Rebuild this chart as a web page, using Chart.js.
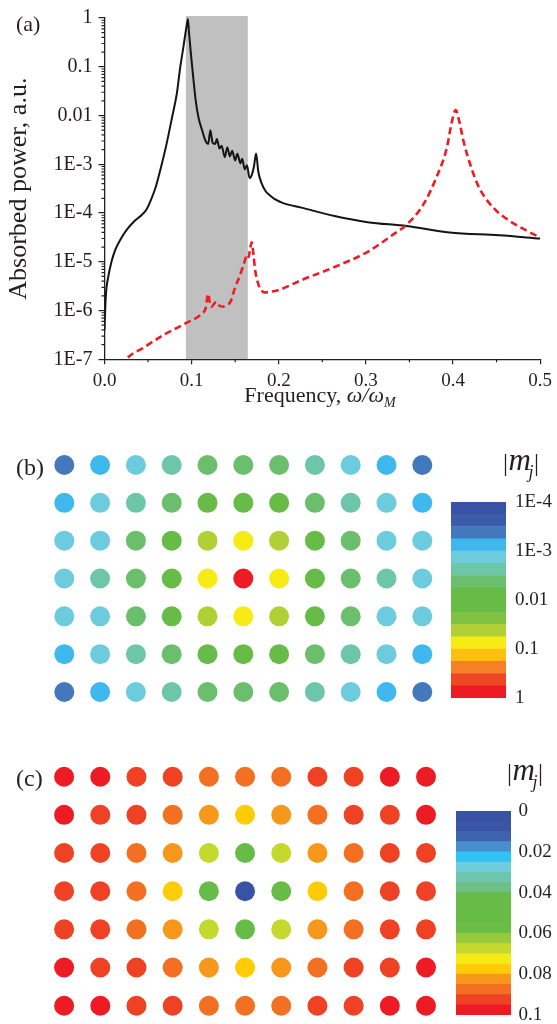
<!DOCTYPE html>
<html><head><meta charset="utf-8">
<script src="https://cdn.jsdelivr.net/npm/chart.js@4.4.1/dist/chart.umd.min.js"></script>
<style>
html,body{margin:0;padding:0;background:#fff;overflow:hidden;width:557px;height:1024px;}
canvas{position:absolute;left:0;top:0;}
</style></head><body>
<canvas id="cA" width="557" height="1040" style="width:557px;height:1040px"></canvas>
<canvas id="cB" width="557" height="1040" style="width:557px;height:1040px"></canvas>
<canvas id="cBbar" width="557" height="1040" style="width:557px;height:1040px"></canvas>
<canvas id="cC" width="557" height="1040" style="width:557px;height:1040px"></canvas>
<canvas id="cCbar" width="557" height="1040" style="width:557px;height:1040px"></canvas>
<script>
// ---------------- DATA ----------------
// Panel (a): absorbed power spectra
const freqBlack = [0.0000,0.0010,0.0020,0.0043,0.0080,0.0120,0.0180,0.0250,0.0350,0.0420,0.0480,0.0530,0.0590,0.0650,0.0710,0.0780,0.0830,0.0870,0.0905,0.0930,0.0950,0.0957,0.0970,0.0990,0.1015,0.1048,0.1080,0.1123,0.1160,0.1190,0.1215,0.1240,0.1270,0.1290,0.1320,0.1345,0.1380,0.1410,0.1440,0.1465,0.1500,0.1525,0.1560,0.1580,0.1610,0.1635,0.1665,0.1690,0.1715,0.1740,0.1765,0.1800,0.1850,0.1900,0.1960,0.2050,0.2260,0.2640,0.3020,0.3470,0.3960,0.4530,0.5000];
const powerBlack = [4.0e-7,1.3e-6,2.6e-6,4.9e-6,1.0e-5,1.7e-5,2.8e-5,4.4e-5,7.0e-5,8.9e-5,1.17e-4,1.8e-4,3.5e-4,8.9e-4,2.5e-3,1.0e-2,2.8e-2,1.0e-1,2.5e-1,5.0e-1,8.3e-1,0.95,0.5,0.2,7.0e-2,1.95e-2,8.9e-3,4.8e-3,3.0e-3,2.6e-3,5.0e-3,2.8e-3,2.6e-3,3.3e-3,2.1e-3,2.4e-3,1.4e-3,2.2e-3,1.45e-3,1.9e-3,1.2e-3,1.65e-3,1.05e-3,1.3e-3,7.9e-4,9.5e-4,5.2e-4,6.0e-4,8.9e-4,1.66e-3,7.1e-4,4.2e-4,2.8e-4,2.3e-4,1.9e-4,1.6e-4,1.29e-4,8.7e-5,6.5e-5,5.4e-5,4.0e-5,3.5e-5,3.0e-5];
const freqRed = [0.020,0.025,0.044,0.071,0.0934,0.112,0.116,0.119,0.1215,0.123,0.126,0.129,0.132,0.136,0.140,0.1445,0.150,0.155,0.160,0.164,0.1655,0.167,0.169,0.171,0.173,0.1765,0.180,0.184,0.188,0.199,0.226,0.264,0.302,0.332,0.347,0.366,0.381,0.393,0.398,0.403,0.407,0.412,0.421,0.430,0.446,0.465,0.484,0.499];
const powerRed = [7.0e-8,1.0e-7,1.7e-7,3.4e-7,5.5e-7,8.7e-7,1.1e-6,2.2e-6,1.25e-6,1.2e-6,1.4e-6,1.5e-6,1.25e-6,1.2e-6,1.3e-6,1.5e-6,3.0e-6,5.0e-6,9.1e-6,1.4e-5,1.25e-5,1.8e-5,2.5e-5,1.4e-5,6.6e-6,3.5e-6,2.6e-6,2.35e-6,2.4e-6,2.6e-6,4.2e-6,7.8e-6,1.6e-5,3.7e-5,5.8e-5,1.5e-4,5.4e-4,2.2e-3,6.5e-3,1.3e-2,7.9e-3,3.0e-3,8.5e-4,3.3e-4,1.3e-4,6.9e-5,4.4e-5,3.2e-5];
const shadedBand = [0.0934, 0.1645];
const xTickValues = [0, 0.1, 0.2, 0.3, 0.4, 0.5];
const xTickLabels = ['0.0', '0.1', '0.2', '0.3', '0.4', '0.5'];
const xMinorTicks = [0.05, 0.15, 0.25, 0.35, 0.45];
const yTickValues = [1e-7, 1e-6, 1e-5, 1e-4, 1e-3, 1e-2, 1e-1, 1];
const yTickLabels = ['1E-7', '1E-6', '1E-5', '1E-4', '1E-3', '0.01', '0.1', '1'];

// Panel (b): |m_j| (log colour scale), rows top to bottom
const bRow1 = [4.2e-4,7.5e-4,1.3e-3,2.4e-3,4.2e-3,4.2e-3,4.2e-3,2.4e-3,1.3e-3,7.5e-4,4.2e-4];
const bRow2 = [7.5e-4,1.3e-3,2.4e-3,4.2e-3,7.5e-3,8.0e-3,7.5e-3,4.2e-3,2.4e-3,1.3e-3,7.5e-4];
const bRow3 = [1.3e-3,1.5e-3,4.2e-3,7.5e-3,0.042,0.075,0.042,7.5e-3,4.2e-3,1.5e-3,1.3e-3];
const bRow4 = [1.5e-3,2.4e-3,4.4e-3,8.0e-3,0.08,0.8,0.08,8.0e-3,4.4e-3,2.4e-3,1.5e-3];
const bRow5 = [1.3e-3,1.5e-3,4.2e-3,7.5e-3,0.042,0.075,0.042,7.5e-3,4.2e-3,1.5e-3,1.3e-3];
const bRow6 = [7.5e-4,1.3e-3,2.4e-3,4.2e-3,7.5e-3,8.0e-3,7.5e-3,4.2e-3,2.4e-3,1.3e-3,7.5e-4];
const bRow7 = [4.2e-4,7.5e-4,1.3e-3,2.4e-3,4.2e-3,4.2e-3,4.2e-3,2.4e-3,1.3e-3,7.5e-4,4.2e-4];
const bEdges = [1e-4,1.778e-4,3.162e-4,5.623e-4,1e-3,1.778e-3,3.162e-3,5.623e-3,1e-2,1.778e-2,3.162e-2,5.623e-2,0.1,0.1778,0.3162,0.5623,1];
const bColors = ['#3953a4','#3c5ba9','#4478bd','#3fb9ed','#6dcbde','#6dc6a7','#6bbe6c','#66bc47','#66bc47','#7fc241','#b0d035','#f6eb15','#fcbf12','#f58025','#ef4723','#ed1c24'];
const bTickValues = [1e-4, 1e-3, 1e-2, 0.1, 1];
const bTickLabels = ['1E-4', '1E-3', '0.01', '0.1', '1'];

// Panel (c): |m_j| (linear colour scale)
const cRow1 = [0.097,0.097,0.092,0.092,0.087,0.087,0.087,0.092,0.092,0.097,0.097];
const cRow2 = [0.097,0.092,0.092,0.087,0.082,0.077,0.082,0.087,0.092,0.092,0.097];
const cRow3 = [0.092,0.092,0.087,0.082,0.067,0.048,0.067,0.082,0.087,0.092,0.092];
const cRow4 = [0.092,0.092,0.087,0.077,0.048,0.002,0.048,0.077,0.087,0.092,0.092];
const cRow5 = [0.092,0.092,0.087,0.082,0.067,0.048,0.067,0.082,0.087,0.092,0.092];
const cRow6 = [0.097,0.092,0.092,0.087,0.082,0.077,0.082,0.087,0.092,0.092,0.097];
const cRow7 = [0.097,0.097,0.092,0.092,0.087,0.087,0.087,0.092,0.092,0.097,0.097];
const cEdges = [0,0.005,0.01,0.015,0.02,0.025,0.03,0.035,0.04,0.045,0.05,0.055,0.06,0.065,0.07,0.075,0.08,0.085,0.09,0.095,0.1];
const cColors = ['#3953a4','#3a55a5','#3d63ae','#4a8fcb','#30c2f2','#6eccdd','#6dc5b0','#6ebf85','#66bc47','#66bc47','#66bc47','#6cbd45','#97c93d','#c4d82e','#f5eb14','#ffcc05','#f7981d','#f36f21','#ef4123','#ed1c24'];
const cTickValues = [0, 0.02, 0.04, 0.06, 0.08, 0.1];
const cTickLabels = ['0', '0.02', '0.04', '0.06', '0.08', '0.1'];

// ---------------- STYLE ----------------
const FONT = "'Liberation Serif','Times New Roman',serif";
const INK = '#231f20';
Chart.defaults.font.family = FONT;
Chart.defaults.color = INK;

function bandColor(v, edges, colors) {
  for (let i = 0; i < colors.length; i++) if (v >= edges[i] && v < edges[i + 1]) return colors[i];
  return v < edges[0] ? colors[0] : colors[colors.length - 1];
}

// ---------------- PANEL (a) ----------------
const panelAPlugin = {
  id: 'panelA',
  beforeDraw(chart) {
    const {ctx, chartArea, scales: {x}} = chart;
    const x0 = x.getPixelForValue(shadedBand[0]), x1 = x.getPixelForValue(shadedBand[1]);
    ctx.save();
    ctx.fillStyle = '#c0c0c0';
    ctx.fillRect(x0, chartArea.top - 2, x1 - x0, chartArea.bottom - chartArea.top + 2);
    ctx.restore();
  },
  afterDraw(chart) {
    const {ctx, chartArea, scales: {x, y}} = chart;
    ctx.save();
    ctx.strokeStyle = INK; ctx.lineWidth = 1.2;
    ctx.beginPath();
    xMinorTicks.forEach(v => { const p = x.getPixelForValue(v); ctx.moveTo(p, chartArea.bottom); ctx.lineTo(p, chartArea.bottom + 3); });
    for (let n = -7; n < 0; n++) for (let k = 2; k <= 9; k++) {
      const p = y.getPixelForValue(k * Math.pow(10, n));
      ctx.moveTo(chartArea.left - 3, p); ctx.lineTo(chartArea.left, p);
    }
    ctx.stroke();
    // x-axis title
    ctx.fillStyle = INK; ctx.textBaseline = 'alphabetic'; ctx.textAlign = 'left';
    const parts = [
      {t: 'Frequency, ', f: `22px ${FONT}`, dy: 0},
      {t: '\u03C9/\u03C9', f: `italic 22px ${FONT}`, dy: 0},
      {t: 'M', f: `italic 14px ${FONT}`, dy: 5}
    ];
    let total = 0;
    parts.forEach(p => { ctx.font = p.f; p.w = ctx.measureText(p.t).width; total += p.w; });
    let cx = 320 - total / 2;
    parts.forEach(p => { ctx.font = p.f; ctx.fillText(p.t, cx, 402 + p.dy); cx += p.w; });
    // panel label
    ctx.font = `22px ${FONT}`;
    ctx.fillText('(a)', 16, 31);
    ctx.restore();
  }
};

new Chart(document.getElementById('cA'), {
  type: 'line',
  data: {
    datasets: [
      {label: 'red', order: 0, data: freqRed.map((f, i) => ({x: f, y: powerRed[i]})),
       borderColor: '#ee1d25', borderWidth: 2.6, borderDash: [7, 4], pointRadius: 0,
       cubicInterpolationMode: 'monotone', fill: false},
      {label: 'black', order: 1, data: freqBlack.map((f, i) => ({x: f, y: powerBlack[i]})),
       borderColor: '#141414', borderWidth: 2, pointRadius: 0,
       cubicInterpolationMode: 'monotone', fill: false}
    ]
  },
  options: {
    responsive: false, animation: false, events: [],
    layout: {padding: {left: 0, top: 16, right: 12.5, bottom: 620}},
    plugins: {legend: {display: false}, tooltip: {enabled: false}},
    scales: {
      x: {
        type: 'linear', min: 0, max: 0.5,
        afterBuildTicks: s => { s.ticks = xTickValues.map(v => ({value: v})); },
        afterFit: s => { s.height = 60.7; },
        grid: {display: true, drawOnChartArea: false, drawTicks: true, tickLength: 5, color: INK, lineWidth: 1.2},
        border: {display: true, color: INK, width: 1.3},
        ticks: {callback: (v, i) => xTickLabels[i], font: {size: 19, family: FONT}, color: INK, padding: 5, autoSkip: false, maxRotation: 0}
      },
      y: {
        type: 'logarithmic', min: 1e-7, max: 1,
        afterBuildTicks: s => { s.ticks = yTickValues.map(v => ({value: v})); },
        afterFit: s => { s.width = 104.5; },
        grid: {display: true, drawOnChartArea: false, drawTicks: true, tickLength: 6, color: INK, lineWidth: 1.2},
        border: {display: true, color: INK, width: 1.3},
        ticks: {callback: (v, i) => yTickLabels[i], font: {size: 20, family: FONT}, color: INK, padding: 6, autoSkip: false},
        title: {display: true, text: 'Absorbed power, a.u.', font: {size: 26, family: FONT}, color: INK, padding: {top: 4, bottom: 0}}
      }
    }
  },
  plugins: [panelAPlugin]
});

// ---------------- DOT GRIDS ----------------
function dotChart(id, rows, edges, colors, area, label, labelY) {
  const pts = [], cols = [];
  rows.forEach((row, r) => row.forEach((v, c) => { pts.push({x: c + 1, y: r + 1}); cols.push(bandColor(v, edges, colors)); }));
  const labelPlugin = {
    id: 'lbl' + id,
    afterDraw(chart) {
      const ctx = chart.ctx; ctx.save();
      ctx.fillStyle = INK; ctx.font = `24px ${FONT}`; ctx.textAlign = 'left'; ctx.textBaseline = 'alphabetic';
      ctx.fillText(label, 16, labelY); ctx.restore();
    }
  };
  new Chart(document.getElementById(id), {
    type: 'scatter',
    data: {datasets: [{data: pts, backgroundColor: cols, pointRadius: 10, pointBorderWidth: 0, clip: false}]},
    options: {
      responsive: false, animation: false, events: [],
      layout: {padding: {left: area.left, right: 557 - area.right, top: area.top, bottom: 1040 - area.bottom}},
      plugins: {legend: {display: false}, tooltip: {enabled: false}},
      scales: {
        x: {type: 'linear', display: false, min: 1, max: rows[0].length},
        y: {type: 'linear', display: false, min: 1, max: rows.length, reverse: true}
      }
    },
    plugins: [labelPlugin]
  });
}

function drawMj(ctx, x, base) {
  ctx.fillStyle = INK; ctx.textBaseline = 'alphabetic'; ctx.textAlign = 'left';
  ctx.font = `25px ${FONT}`; ctx.fillText('|', x, base + 1);
  const wBar = ctx.measureText('|').width;
  ctx.font = `italic 31px ${FONT}`; ctx.fillText('m', x + wBar + 0.5, base);
  const wm = ctx.measureText('m').width;
  ctx.font = `italic 18px ${FONT}`; ctx.fillText('j', x + wBar + wm - 2, base + 8);
  const wj = ctx.measureText('j').width;
  ctx.font = `25px ${FONT}`; ctx.fillText('|', x + wBar + wm + wj - 1.5, base + 1);
}

function colorbar(id, edges, colors, tickVals, tickLabels, isLog, area, labelPad, mj) {
  const mjPlugin = {
    id: 'mj' + id,
    afterDraw(chart) { const ctx = chart.ctx; ctx.save(); drawMj(ctx, mj.x, mj.base); ctx.restore(); }
  };
  new Chart(document.getElementById(id), {
    type: 'bar',
    data: {
      labels: ['cb'],
      datasets: [{
        data: colors.map((c, i) => ({x: 'cb', y: [edges[i], edges[i + 1]]})),
        backgroundColor: colors, borderWidth: 0, barPercentage: 1, categoryPercentage: 1
      }]
    },
    options: {
      responsive: false, animation: false, events: [],
      layout: {padding: {left: area.left, right: 0, top: area.top, bottom: 1040 - area.bottom}},
      plugins: {legend: {display: false}, tooltip: {enabled: false}},
      scales: {
        x: {display: false},
        y: {
          type: isLog ? 'logarithmic' : 'linear', position: 'right', reverse: true,
          min: edges[0], max: edges[edges.length - 1],
          afterBuildTicks: s => { s.ticks = tickVals.map(v => ({value: v})); },
          afterFit: s => { s.width = 557 - area.right; },
          grid: {display: false, drawTicks: false},
          border: {display: false},
          ticks: {callback: (v, i) => tickLabels[i], font: {size: 19, family: FONT}, color: INK, padding: labelPad, autoSkip: false}
        }
      }
    },
    plugins: [mjPlugin]
  });
}

dotChart('cB', [bRow1, bRow2, bRow3, bRow4, bRow5, bRow6, bRow7], bEdges, bColors,
  {left: 64.3, right: 422.3, top: 465, bottom: 692}, '(b)', 474.5);
colorbar('cBbar', bEdges, bColors, bTickValues, bTickLabels, true,
  {left: 451, right: 506, top: 502, bottom: 698}, 9, {x: 503, base: 470});

dotChart('cC', [cRow1, cRow2, cRow3, cRow4, cRow5, cRow6, cRow7], cEdges, cColors,
  {left: 64.1, right: 426, top: 776.7, bottom: 1005.7}, '(c)', 785.5);
colorbar('cCbar', cEdges, cColors, cTickValues, cTickLabels, false,
  {left: 456, right: 511, top: 811, bottom: 1015}, 7.5, {x: 507, base: 780});
</script>
</body></html>
